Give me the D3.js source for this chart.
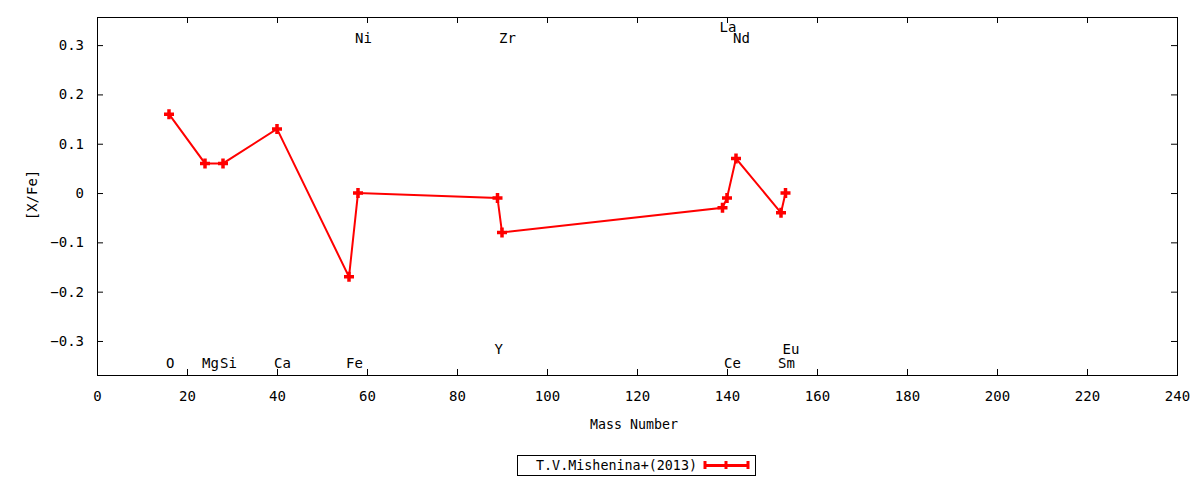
<!DOCTYPE html>
<html>
<head>
<meta charset="utf-8">
<script src="https://cdn.jsdelivr.net/npm/d3@7"></script>
<style>
  body { margin: 0; background: #fff; }
  text { font-family: 'DejaVu Sans Mono', monospace; font-size: 14px; fill: #000; }
</style>
</head>
<body>
<svg id="chart" width="1200" height="480"></svg>
<script>
(function(){
'use strict';

// abundances from T.V.Mishenina+(2013)
var elements = ['O', 'Mg', 'Si', 'Ca', 'Fe', 'Ni', 'Y', 'Zr', 'La', 'Ce', 'Nd', 'Sm', 'Eu'];
var masses   = [16, 24, 28, 40, 56, 58, 89, 90, 139, 140, 142, 152, 153];
var xfe      = [0.16, 0.06, 0.06, 0.13, -0.17, 0.00, -0.01, -0.08, -0.03, -0.01, 0.07, -0.04, 0.00];
// where the element names sit, in [X/Fe] units
var labelY   = [-0.345, -0.345, -0.345, -0.345, -0.345, 0.315, -0.317, 0.315, 0.337, -0.345, 0.315, -0.345, -0.317];

var xTicks = [0, 20, 40, 60, 80, 100, 120, 140, 160, 180, 200, 220, 240];
var yTicks = [-0.3, -0.2, -0.1, 0, 0.1, 0.2, 0.3];
var seriesName = 'T.V.Mishenina+(2013)';

var RED = '#ff0000';
var left = 97, right = 1177, top = 17, bottom = 375;

var svg = d3.select('#chart');
var x = d3.scaleLinear().domain([0, 240]).range([left, right]);
var y = d3.scaleLinear().domain([-0.369, 0.357]).range([bottom, top]);

var points = masses.map(function(m, i){ return {m: m, v: xfe[i]}; });

// axes, ticks pointing inwards, mirrored on the opposite side
var fmtY = function(d){ return d === 0 ? '0' : d3.format('.1f')(d); };
var axB = svg.append('g').attr('transform', 'translate(0,' + bottom + ')')
    .call(d3.axisBottom(x).tickValues(xTicks).tickSize(-6).tickPadding(13));
var axT = svg.append('g').attr('transform', 'translate(0,' + top + ')')
    .call(d3.axisTop(x).tickValues(xTicks).tickSize(-6).tickFormat(''));
var axL = svg.append('g').attr('transform', 'translate(' + left + ',0)')
    .call(d3.axisLeft(y).tickValues(yTicks).tickSize(-6).tickPadding(13).tickFormat(fmtY));
var axR = svg.append('g').attr('transform', 'translate(' + right + ',0)')
    .call(d3.axisRight(y).tickValues(yTicks).tickSize(-6).tickFormat(''));

[axB, axT, axL, axR].forEach(function(g){
    g.select('.domain').remove();
    g.selectAll('line').attr('stroke', '#000').attr('stroke-width', 1);
    g.selectAll('text').attr('font-family', 'DejaVu Sans Mono, monospace')
        .attr('font-size', 14).attr('fill', '#000');
});
axB.selectAll('text').attr('dy', '0.9em');

svg.append('rect')
    .attr('x', left + 0.5).attr('y', top + 0.5)
    .attr('width', right - left).attr('height', bottom - top)
    .attr('fill', 'none').attr('stroke', '#000').attr('stroke-width', 1);

// element names
svg.append('g').selectAll('text')
    .data(elements)
    .enter().append('text')
    .attr('x', function(d, i){ return x(masses[i]) - 3; })
    .attr('y', function(d, i){ return y(labelY[i]); })
    .attr('dy', '0.35em')
    .text(function(d){ return d; });

// series line
var line = d3.line()
    .x(function(d){ return x(d.m); })
    .y(function(d){ return y(d.v); });

svg.append('path')
    .datum(points)
    .attr('d', line)
    .attr('fill', 'none')
    .attr('stroke', RED)
    .attr('stroke-width', 2);

var plus = 'M-5,0H5M0,-5V5';
svg.append('g').selectAll('path')
    .data(points)
    .enter().append('path')
    .attr('d', plus)
    .attr('transform', function(d){ return 'translate(' + x(d.m) + ',' + y(d.v) + ')'; })
    .attr('stroke', RED)
    .attr('stroke-width', 3.5)
    .attr('fill', 'none');

// axis titles (gnuplot's font runs a bit narrower than DejaVu Mono)
svg.append('text')
    .attr('x', 590)
    .attr('y', 424)
    .attr('dy', '0.35em')
    .attr('textLength', 88)
    .attr('lengthAdjust', 'spacingAndGlyphs')
    .text('Mass Number');

svg.append('text')
    .attr('transform', 'translate(32,195) rotate(-90)')
    .attr('dy', '0.35em')
    .attr('text-anchor', 'middle')
    .text('[X/Fe]');

// legend
var lg = svg.append('g').attr('transform', 'translate(517,455)');
lg.append('rect')
    .attr('x', 0.5).attr('y', 0.5).attr('width', 238).attr('height', 20)
    .attr('fill', 'none').attr('stroke', '#000').attr('stroke-width', 1);
lg.append('text')
    .attr('x', 19).attr('y', 10.5).attr('dy', '0.35em')
    .attr('textLength', 161)
    .attr('lengthAdjust', 'spacingAndGlyphs')
    .text(seriesName);
var key = lg.append('g').attr('stroke', RED).attr('stroke-width', 3);
key.append('line').attr('x1', 188).attr('x2', 231).attr('y1', 10.5).attr('y2', 10.5);
[188, 209, 231].forEach(function(kx){
    key.append('line').attr('x1', kx).attr('x2', kx).attr('y1', 6).attr('y2', 14);
});

})();
</script>
</body>
</html>
